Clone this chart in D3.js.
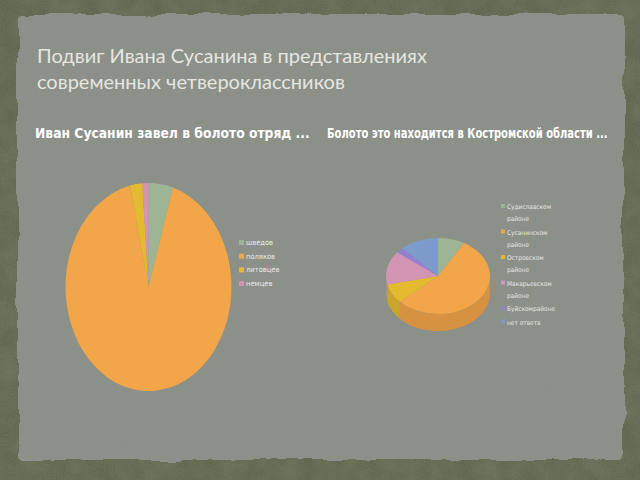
<!DOCTYPE html>
<html><head><meta charset="utf-8">
<script src="https://cdn.jsdelivr.net/npm/d3@7/dist/d3.min.js"></script>
<style>html,body{margin:0;padding:0;background:#5b6249;}svg{display:block;}</style>
</head><body>
<script>
// ---- data ----
const titleLines = ["Подвиг Ивана Сусанина в представлениях", "современных четвероклассников"];
const chart1Title = "Иван Сусанин завел в болото отряд ...";
const chart1Labels = ["шведов", "поляков", "литовцев", "немцев"];
const chart1Values = [4, 77, 2, 1];
const chart1Colors = ["#9db594", "#f2a549", "#e4bb30", "#d495b4"];

const chart2Title = "Болото это находится в Костромской области ...";
const chart2Labels = [["Судиславском", "районе"], ["Сусанинском", "районе"], ["Островском", "районе"], ["Макарьевском", "районе"], ["Буйскомрайоне"], ["нет ответа"]];
const chart2Values = [7, 46, 7, 12, 2, 10];
const chart2Colors = ["#9db594", "#f2a549", "#e4bb30", "#d495b4", "#9580cf", "#7d9ccc"];

const W = 640, H = 480;
const svg = d3.select("body").append("svg").attr("width", W).attr("height", H);
const defs = svg.append("defs");

// rough edge filter
const rough = defs.append("filter").attr("id", "rough").attr("x", "-5%").attr("y", "-5%").attr("width", "110%").attr("height", "110%");
rough.append("feTurbulence").attr("type", "fractalNoise").attr("baseFrequency", "0.025").attr("numOctaves", 3).attr("seed", 7).attr("result", "n");
rough.append("feDisplacementMap").attr("in", "SourceGraphic").attr("in2", "n").attr("scale", 10).attr("xChannelSelector", "R").attr("yChannelSelector", "G");

const grain = defs.append("filter").attr("id", "grain");
grain.append("feTurbulence").attr("type", "fractalNoise").attr("baseFrequency", "0.9").attr("numOctaves", 2).attr("seed", 2).attr("result", "t");
grain.append("feColorMatrix").attr("in", "t").attr("type", "matrix")
  .attr("values", "0 0 0 0 0.5  0 0 0 0 0.52  0 0 0 0 0.48  0 0 0 0.18 0");

const mottle = defs.append("filter").attr("id", "mottle");
mottle.append("feTurbulence").attr("type", "fractalNoise").attr("baseFrequency", "0.05").attr("numOctaves", 3).attr("seed", 9).attr("result", "t");
mottle.append("feColorMatrix").attr("in", "t").attr("type", "matrix")
  .attr("values", "0 0 0 0 0.28  0 0 0 0 0.31  0 0 0 0 0.22  0 0 0 0.35 -0.1");

// background
svg.append("rect").attr("width", W).attr("height", H).attr("fill", "#5a6148");
svg.append("rect").attr("width", W).attr("height", H).attr("fill", "#000").attr("filter", "url(#mottle)");
svg.append("rect").attr("width", W).attr("height", H).attr("fill", "#000").attr("filter", "url(#grain)").attr("opacity", 0.8);
svg.append("rect").attr("x", 18).attr("y", 15).attr("width", 606).attr("height", 444).attr("rx", 4)
  .attr("fill", "#8a8f87").attr("filter", "url(#rough)");
svg.append("rect").attr("x", 26).attr("y", 22).attr("width", 590).attr("height", 430)
  .attr("fill", "#000").attr("filter", "url(#grain)").attr("opacity", 0.35);

// title
svg.append("g").selectAll("text").data(titleLines).join("text")
  .attr("x", 37).attr("y", (d, i) => 63 + i * 26)
  .attr("font-family", "Lato, sans-serif").attr("font-size", 20)
  .attr("fill", "#e6e6e1").text(d => d);

// chart titles: fit into measured width via horizontal scaling
function fitText(x, y, txt, width) {
  const t = svg.append("text").attr("font-family", "DejaVu Sans Condensed, DejaVu Sans, sans-serif")
    .attr("font-weight", "bold").attr("font-size", 14).attr("fill", "#ffffff").text(txt);
  const w = t.node().getComputedTextLength();
  t.attr("transform", `translate(${x},${y}) scale(${width / w},1)`);
}
fitText(35, 138, chart1Title, 275);
fitText(327, 138, chart2Title, 281);

// ---- chart 1: flat elliptical pie ----
const pie = d3.pie().sort(null).value(d => d);
const c1 = {cx: 148.5, cy: 287, rx: 83, ry: 104};
const arcs1 = pie(chart1Values);
const arc1 = d3.arc().innerRadius(0).outerRadius(c1.rx);
svg.append("g").attr("transform", `translate(${c1.cx},${c1.cy}) scale(1,${c1.ry / c1.rx})`)
  .selectAll("path").data(arcs1).join("path")
  .attr("d", arc1).attr("fill", (d, i) => chart1Colors[i]);

const leg1 = svg.append("g").selectAll("g").data(chart1Labels).join("g")
  .attr("transform", (d, i) => `translate(239,${245 + i * 13.7})`);
leg1.append("rect").attr("x", 0).attr("y", -5).attr("width", 5).attr("height", 5).attr("fill", (d, i) => chart1Colors[i]);
leg1.append("text").attr("x", 7).attr("y", 0).attr("font-family", "DejaVu Sans Condensed, sans-serif")
  .attr("font-size", 7.5).attr("fill", "#ececec").text(d => d);

// ---- chart 2: 3D pie ----
const c2 = {cx: 438, cy: 276, rx: 52, ry: 38, depth: 17};
const arcs2 = pie(chart2Values);
const pt = (a, dy = 0) => [c2.cx + c2.rx * Math.sin(a), c2.cy - c2.ry * Math.cos(a) + dy];
const g2 = svg.append("g");
function sidePath(d) {
  const a0 = Math.max(d.startAngle, Math.PI / 2), a1 = Math.min(d.endAngle, 3 * Math.PI / 2);
  if (a1 <= a0) return null;
  const n = 30, top = [], bot = [];
  for (let k = 0; k <= n; k++) {
    const a = a0 + (a1 - a0) * k / n;
    top.push(pt(a)); bot.push(pt(a, c2.depth));
  }
  return d3.line()(top.concat(bot.reverse())) + "Z";
}
const darker = c => d3.color(c).darker(0.35).formatHex();
g2.selectAll("path.side").data(arcs2).join("path").attr("class", "side")
  .attr("d", d => sidePath(d)).attr("fill", (d, i) => darker(chart2Colors[i]));
const arc2 = d3.arc().innerRadius(0).outerRadius(c2.rx);
g2.append("g").attr("transform", `translate(${c2.cx},${c2.cy}) scale(1,${c2.ry / c2.rx})`)
  .selectAll("path").data(arcs2).join("path")
  .attr("d", arc2).attr("fill", (d, i) => chart2Colors[i]);

// legend 2
let yy = 209;
const leg2 = svg.append("g");
chart2Labels.forEach((lines, i) => {
  leg2.append("rect").attr("x", 501).attr("y", yy - 5).attr("width", 4).attr("height", 4).attr("fill", chart2Colors[i]);
  lines.forEach((t, j) => {
    leg2.append("text").attr("x", 507).attr("y", yy + j * 12).attr("font-family", "DejaVu Sans Condensed, sans-serif")
      .attr("font-size", 6.5).attr("fill", "#e6e6e6").text(t);
  });
  yy += lines.length * 12 + 1.5;
});
</script>
</body></html>
